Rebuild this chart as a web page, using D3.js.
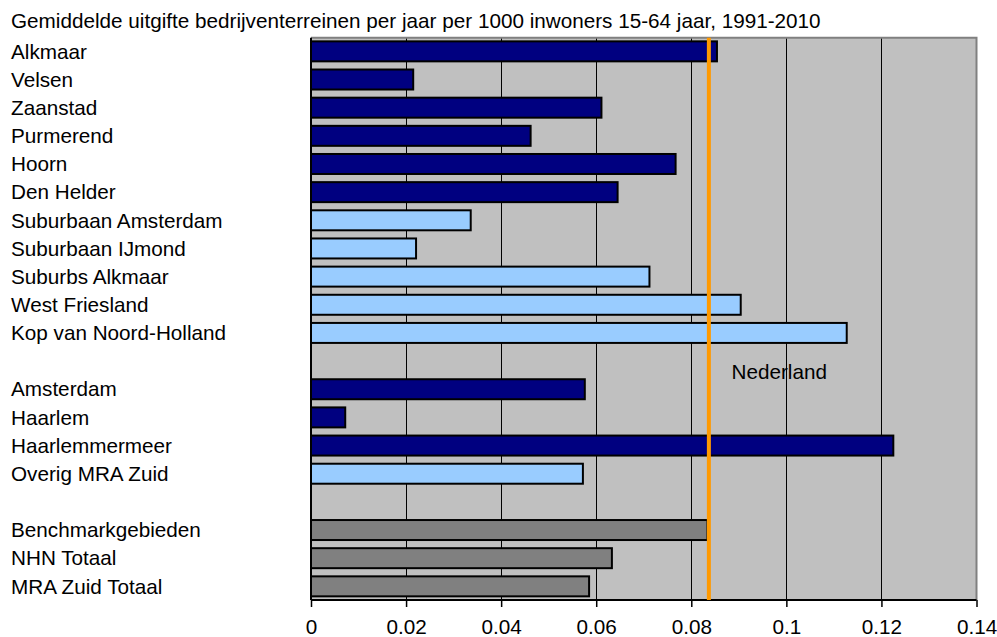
<!DOCTYPE html>
<html><head><meta charset="utf-8">
<script src="https://cdn.jsdelivr.net/npm/d3@7"></script>
<style>html,body{margin:0;padding:0;background:#fff;}svg{display:block;}</style>
</head><body>
<script>
const title = "Gemiddelde uitgifte bedrijventerreinen per jaar per 1000 inwoners 15-64 jaar, 1991-2010";
const categories = ["Alkmaar","Velsen","Zaanstad","Purmerend","Hoorn","Den Helder","Suburbaan Amsterdam","Suburbaan IJmond","Suburbs Alkmaar","West Friesland","Kop van Noord-Holland","","Amsterdam","Haarlem","Haarlemmermeer","Overig MRA Zuid"," ","Benchmarkgebieden","NHN Totaal","MRA Zuid Totaal"];
const values = [0.0854,0.0215,0.0611,0.0462,0.0767,0.0645,0.0336,0.0221,0.0712,0.0904,0.1127,null,0.0576,0.0072,0.1225,0.0572,null,0.0834,0.0633,0.0585];
const groups = ["city","city","city","city","city","city","sub","sub","sub","sub","sub",null,"city","city","city","sub",null,"total","total","total"];
const xTicks = [0,0.02,0.04,0.06,0.08,0.1,0.12,0.14];
const nederland = 0.0837;
const refLabel = "Nederland";
const colors = {city:"#000080", sub:"#99CCFF", total:"#808080"};

const W=997,H=637;
const mLeft=311,mRight=976.5,mTop=37.7,mBottom=600;
const svg=d3.select("body").append("svg").attr("width",W).attr("height",H);
const font="Liberation Sans, Arial, sans-serif";
const fs=20.7;

const x=d3.scaleLinear().domain([0,0.14]).range([mLeft,mRight]);
const y=d3.scaleBand().domain(categories).range([mTop,mBottom]).paddingInner(0.29).paddingOuter(0.13);

svg.append("rect").attr("x",mLeft).attr("y",mTop).attr("width",mRight-mLeft).attr("height",mBottom-mTop).attr("fill","#C0C0C0");

svg.append("g").selectAll("line").data(xTicks.slice(1,-1)).join("line")
  .attr("x1",d=>x(d)).attr("x2",d=>x(d)).attr("y1",mTop).attr("y2",mBottom)
  .attr("stroke","#000").attr("stroke-width",1).attr("shape-rendering","crispEdges");

svg.append("path").attr("d",`M${mLeft},${mTop}H${mRight}V${mBottom}`).attr("fill","none").attr("stroke","#808080").attr("stroke-width",2);

const data=categories.map((c,i)=>({c,v:values[i],g:groups[i]})).filter(d=>d.v!=null);
svg.append("g").selectAll("rect").data(data).join("rect")
  .attr("x",x(0)).attr("y",d=>y(d.c)).attr("width",d=>x(d.v)-x(0)).attr("height",y.bandwidth())
  .attr("fill",d=>colors[d.g]).attr("stroke","#000").attr("stroke-width",2);

const ax=svg.append("g").attr("transform",`translate(0,${mBottom})`)
  .call(d3.axisBottom(x).tickValues(xTicks).tickFormat(d=>String(d)).tickSize(7).tickPadding(12));
ax.select(".domain").attr("stroke","#000").attr("stroke-width",2).attr("d",`M${mLeft},0H${mRight}`);
ax.selectAll(".tick line").attr("stroke","#000").attr("stroke-width",1.5);
ax.selectAll(".tick text").attr("font-family",font).attr("font-size",fs).attr("fill","#000");

svg.append("line").attr("x1",mLeft).attr("x2",mLeft).attr("y1",mTop).attr("y2",mBottom).attr("stroke","#000").attr("stroke-width",2);

svg.append("line").attr("x1",x(nederland)).attr("x2",x(nederland)).attr("y1",mTop).attr("y2",mBottom)
  .attr("stroke","#FF9900").attr("stroke-width",4);
svg.append("text").attr("x",731.5).attr("y",(y("")+y.bandwidth()/2)+11).attr("dy","0.35em")
  .attr("font-family",font).attr("font-size",fs).attr("fill","#000").text(refLabel);

svg.append("g").selectAll("text").data(categories).join("text")
  .attr("x",11).attr("y",d=>y(d)+y.bandwidth()/2).attr("dy","0.35em")
  .attr("font-family",font).attr("font-size",fs).attr("fill","#000").text(d=>d.trim());

svg.append("text").attr("x",11).attr("y",28).attr("font-family",font).attr("font-size",fs).attr("fill","#000").text(title);
</script>
</body></html>
